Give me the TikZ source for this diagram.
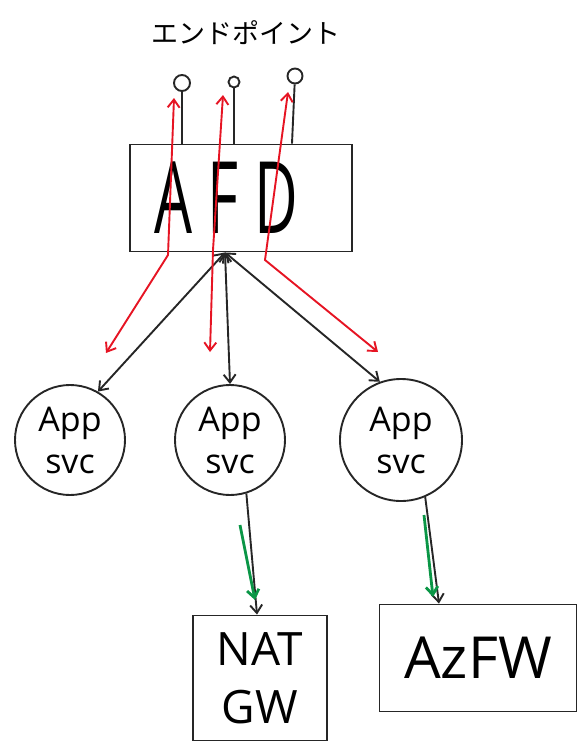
\documentclass[tikz,border=0pt]{standalone}
\usepackage{fontspec}
\setmainfont{Open Sans}
\newfontfamily\jpfont{Noto Sans CJK JP}
\usetikzlibrary{arrows.meta, positioning}
\definecolor{penred}{RGB}{230,20,35}
\definecolor{pengreen}{RGB}{10,150,70}

\begin{document}
\begin{tikzpicture}[x=1pt, y=-1pt, node distance=160pt, line width=1.9pt, >={Straight Barb[length=8pt,width=12pt]}]
  \tikzstyle{line}=[draw, black!85]
  \tikzstyle{svc} = [circle, minimum size=110pt, draw=black!85, align=center, font=\fontsize{34}{42}\selectfont]
  \tikzstyle{box} = [rectangle, draw=black!85, align=center]
  \tikzstyle{endpt} = [circle, draw=black!85, inner sep=0pt]
  \tikzstyle{arrow}=[draw, black!85, <->]
  \tikzstyle{redarrow}=[draw, penred, <->]
  \tikzstyle{greenarrow}=[draw, pengreen, line width=2.8pt, ->]

  \useasboundingbox (0,0) rectangle (588,756);

  \node (title) at (246,33) {\jpfont\fontsize{27}{27}\selectfont エンドポイント};
  \node (afd) [box, minimum width=222pt, minimum height=107pt, font=\fontsize{100}{100}\selectfont] at (241,198) {\scalebox{0.6}[1]{A F D}\hspace{30pt}};
  \node (ep1) [endpt, minimum size=16pt] at (182,83) {};
  \node (ep2) [endpt, minimum size=11pt] at (234,82) {};
  \node (ep3) [endpt, minimum size=15pt] at (295,76) {};

  \node (app1) [svc] at (70,440) {App\\svc};
  \node (app2) [svc, right of=app1] {App\\svc};
  \node (app3) [svc, right of=app2, xshift=11pt, minimum size=122pt] {App\\svc};

  \node (nat) [box, minimum width=134pt, minimum height=125pt, font=\fontsize{46}{58}\selectfont] at (260,678) {NAT\\GW};
  \node (azfw) [box, minimum width=197pt, minimum height=107pt, font=\fontsize{58}{58}\selectfont] at (478,658) {AzFW};

  % endpoint stems
  \draw [line] (ep1) -- (ep1 |- afd.north);
  \draw [line] (ep2) -- (ep2 |- afd.north);
  \draw [line] (ep3) -- ([xshift=-3pt]ep3 |- afd.north);

  % AFD <-> App svc
  \coordinate (hub) at ([xshift=-16pt]afd.south);
  \draw [arrow] (hub) -- (app1.60);
  \draw [arrow] (hub) -- (app2.north);
  \draw [arrow] (hub) -- (app3.110);

  % endpoint <-> App svc
  \coordinate (r1bot) at (106,353);
  \coordinate (r1top) at (174,98);
  \coordinate (r2bot) at (210,352);
  \coordinate (r2top) at (223,95);
  \coordinate (r3bot) at (378,352);
  \coordinate (r3top) at (288,92);
  \draw [redarrow] (r1bot) -- (168,255) -- (r1top);
  \draw [redarrow] (r2bot) -- (213,250) -- (r2top);
  \draw [redarrow] (r3bot) -- (265,260) -- (r3top);

  % outbound
  \draw [line, ->] (app2.-73) -- ([xshift=-3pt]nat.north);
  \draw [line, ->] (app3.-67) -- ([xshift=-39pt]azfw.north);
  \coordinate (g1s) at (240,525);
  \coordinate (g1e) at (255,600);
  \coordinate (g2s) at (424,515);
  \coordinate (g2e) at (433,597);
  \draw [greenarrow] (g1s) -- (g1e);
  \draw [greenarrow] (g2s) -- (g2e);
\end{tikzpicture}
\end{document}
